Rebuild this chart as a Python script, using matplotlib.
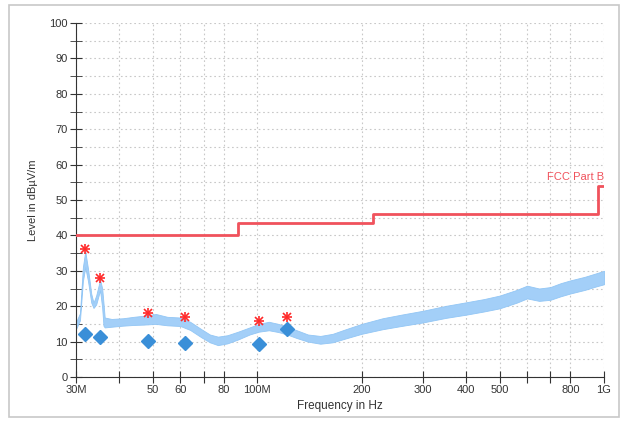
import matplotlib.pyplot as plt
from matplotlib.patches import Rectangle
from matplotlib.ticker import FixedLocator, MultipleLocator, NullFormatter

plt.rcParams['font.family'] = ['Liberation Sans', 'DejaVu Sans']

trace_f = [30, 30.8, 31.4, 31.9, 32.5, 33.2, 33.7, 34.3, 35.2, 35.7, 36.0, 36.3, 38, 41, 44, 47,
           51, 55, 60, 64, 69, 73, 77, 82, 88, 95, 101, 108, 115, 122, 130,
           140, 152, 165, 180, 200, 230, 260, 300, 350, 400, 450, 500, 560, 600,
           650, 700, 750, 800, 880, 950, 1000]
trace_lo = [13.5, 16.0, 27.0, 31.0, 27.0, 21.0, 19.5, 20.5, 24.5, 19.5, 14.5, 14.0, 14.2, 14.5, 14.7, 14.8,
            15.0, 14.6, 14.4, 13.3, 11.2, 9.8, 9.0, 9.5, 10.6, 12.0, 12.8, 13.2, 12.7, 12.0, 11.0,
            10.0, 9.4, 9.8, 10.9, 12.2, 13.5, 14.4, 15.4, 16.7, 17.6, 18.5, 19.4, 21.0, 22.2,
            21.5, 21.8, 22.8, 23.6, 24.6, 25.6, 26.2]
trace_hi = [15.5, 18.0, 31.0, 35.5, 30.5, 23.5, 21.0, 23.0, 27.5, 25.0, 21.0, 16.8, 16.4, 16.6, 17.0, 17.3,
            17.8, 17.0, 16.8, 15.6, 13.5, 12.0, 11.4, 11.8, 12.8, 14.0, 15.0, 15.6, 15.0, 14.2, 13.2,
            12.0, 11.6, 12.2, 13.5, 15.0, 16.6, 17.6, 18.7, 20.1, 21.1, 22.0, 23.0, 24.6, 25.8,
            25.0, 25.4, 26.5, 27.3, 28.3, 29.3, 30.0]

# limit line FCC Part B
limit_f = [30, 88, 88, 216, 216, 960, 960, 1000]
limit_v = [40, 40, 43.5, 43.5, 46, 46, 54, 54]

# peaks (red asterisks) and final results (blue diamonds)
peak_f = [31.9, 35.2, 48.3, 61.8, 101.4, 122.2]
peak_v = [36.1, 27.9, 18.2, 16.9, 15.8, 16.9]
final_v = [12.1, 11.4, 10.3, 9.7, 9.2, 13.5]

xticks = [30, 40, 50, 60, 70, 80, 100, 200, 300, 400, 500, 600, 700, 800, 1000]
xlabels = ['30M', '', '50', '60', '', '80', '100M', '200', '300', '400', '500', '', '', '800', '1G']

fig = plt.figure(figsize=(6.24, 4.21), dpi=100)
ax = fig.add_axes([76/624, 44/421, 528/624, 354/421])

ax.fill_between(trace_f, trace_lo, trace_hi, color='#a3cff8', lw=0.6, edgecolor='#92c6f5', zorder=2)
ax.plot(limit_f, limit_v, color='#f0525c', lw=2, zorder=3)
ax.text(1000, 55.2, 'FCC Part B', color='#f0525c', fontsize=8, ha='right', va='bottom')
# asterisk = plus + cross
ax.plot(peak_f, peak_v, ls='none', marker='+', ms=7, mew=1.2, color='#ff2a2a', zorder=5)
ax.plot(peak_f, peak_v, ls='none', marker='x', ms=5.5, mew=1.2, color='#ff2a2a', zorder=5)
ax.plot(peak_f, final_v, ls='none', marker='D', ms=7, color='#3a8fd8', mec='#3a8fd8', zorder=5)

ax.set_xscale('log')
ax.set_xlim(30, 1000)
ax.set_ylim(0, 100)
ax.xaxis.set_major_locator(FixedLocator(xticks))
ax.xaxis.set_minor_locator(FixedLocator([]))
ax.set_xticklabels(xlabels)
ax.xaxis.set_minor_formatter(NullFormatter())
ax.yaxis.set_major_locator(MultipleLocator(10))
ax.yaxis.set_minor_locator(MultipleLocator(5))

ax.grid(True, which='both', ls=(0, (1.5, 2.5)), color='#c8c8c8', lw=0.8)
ax.set_axisbelow(True)
for s in ['top', 'right']:
    ax.spines[s].set_visible(False)
for s in ['left', 'bottom']:
    ax.spines[s].set_color('#333333')
ax.tick_params(which='major', direction='inout', length=8, color='#333333', labelsize=8,
               labelcolor='#333333', pad=2)
ax.tick_params(which='minor', direction='inout', length=8, color='#333333')
ax.set_xlabel('Frequency in Hz', fontsize=8.5, color='#333333', labelpad=3)
ax.set_ylabel('Level in dB\u00b5V/m', fontsize=8, color='#333333', labelpad=8)

fig.patches.append(Rectangle((9/624, 4/421), 610/624, 412/421, transform=fig.transFigure,
                             fill=False, edgecolor='#c8c8c8', lw=1.2))

plt.savefig('out.png', dpi=100)
